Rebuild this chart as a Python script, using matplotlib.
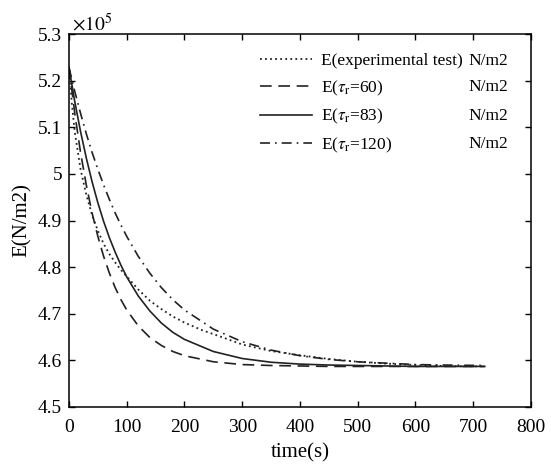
import matplotlib
matplotlib.use("Agg")
import matplotlib.pyplot as plt
from matplotlib.ticker import FuncFormatter

plt.rcParams['font.family'] = ['Liberation Serif', 'DejaVu Serif']
plt.rcParams['mathtext.fontset'] = 'stix'

# time axis (s) and E values (x10^5 N/m2)
t_exp = [0, 5, 10, 20, 30, 40, 50, 60, 70, 80, 90, 100, 120, 140, 160, 180, 200,
         230, 260, 300, 350, 400, 450, 500, 550, 600, 650, 720]
E_exp = [5.228, 5.150, 5.090, 5.010, 4.955, 4.912, 4.878, 4.850, 4.828, 4.810, 4.794,
         4.780, 4.752, 4.728, 4.710, 4.694, 4.681, 4.665, 4.652, 4.634, 4.620, 4.611,
         4.603, 4.597, 4.593, 4.590, 4.588, 4.587]

t_mod = [0, 10, 20, 30, 40, 50, 60, 70, 80, 90, 100, 120, 140, 160, 180, 200,
         250, 300, 350, 400, 450, 500, 550, 600, 650, 720]
E_60 = [5.228, 5.130, 5.046, 4.976, 4.916, 4.866, 4.823, 4.787, 4.756, 4.730, 4.708,
        4.674, 4.649, 4.632, 4.619, 4.610, 4.597, 4.591, 4.589, 4.588, 4.587, 4.587,
        4.587, 4.587, 4.587, 4.587]
E_83 = [5.228, 5.155, 5.091, 5.034, 4.983, 4.938, 4.898, 4.863, 4.832, 4.804, 4.779,
        4.738, 4.706, 4.680, 4.660, 4.645, 4.619, 4.604, 4.596, 4.592, 4.590, 4.589,
        4.588, 4.587, 4.587, 4.587]
E_120 = [5.228, 5.177, 5.130, 5.086, 5.046, 5.010, 4.976, 4.945, 4.916, 4.890, 4.866,
         4.823, 4.787, 4.756, 4.730, 4.708, 4.667, 4.640, 4.622, 4.610, 4.602, 4.597,
         4.594, 4.591, 4.590, 4.589]

labels = ['E(experimental test)', r'E($\tau_{\rm r}$=60)', r'E($\tau_{\rm r}$=83)',
          r'E($\tau_{\rm r}$=120)']
unit = 'N/m2'

fig = plt.figure(figsize=(5.51, 4.69), dpi=100)
ax = fig.add_axes([0.1252, 0.1322, 0.8385, 0.7953])

ax.plot(t_exp, E_exp, color='#222222', lw=1.3, linestyle=(0, (1, 1.8)), label=labels[0])
ax.plot(t_mod, E_60, color='#222222', lw=1.2, linestyle=(0, (7, 4)), label=labels[1])
ax.plot(t_mod, E_83, color='#222222', lw=1.2, linestyle='-', label=labels[2])
ax.plot(t_mod, E_120, color='#222222', lw=1.2, linestyle=(0, (6, 3, 1, 3)), label=labels[3])

ax.set_xlim(0, 800)
ax.set_ylim(4.5, 5.3)
ax.set_xticks(range(0, 801, 100))
ax.set_yticks([4.5, 4.6, 4.7, 4.8, 4.9, 5.0, 5.1, 5.2, 5.3])
ax.yaxis.set_major_formatter(FuncFormatter(lambda v, p: '%g' % round(v, 2)))
ax.tick_params(direction='in', top=True, right=True, length=4, width=1,
               labelsize=14, pad=5)
ax.tick_params(axis='x', pad=9)
for s in ax.spines.values():
    s.set_linewidth(1.1)

ax.set_xlabel('time(s)', fontsize=15, labelpad=5)
ax.set_ylabel('E(N/m2)', fontsize=15, labelpad=4)
ax.text(0.006, 0.998, r'$\times10^{5}$', transform=ax.transAxes, fontsize=14,
        ha='left', va='bottom')

leg = ax.legend(loc='upper left', bbox_to_anchor=(0.413, 0.949), frameon=False,
                fontsize=12.5, handlelength=3.0, handletextpad=0.5,
                labelspacing=0.54, borderpad=0, borderaxespad=0)

# unit column aligned with legend rows
fig.canvas.draw()
r = fig.canvas.get_renderer()
for txt in leg.get_texts():
    bb = txt.get_window_extent(r)
    yc = (bb.y0 + bb.y1) / 2
    if '$' in txt.get_text():
        yc = bb.y1 - 8.5
    fig.text(468 / 551, yc / fig.bbox.height, unit, fontsize=12.5, ha='left',
             va='center')

fig.savefig('out.png', dpi=100)
